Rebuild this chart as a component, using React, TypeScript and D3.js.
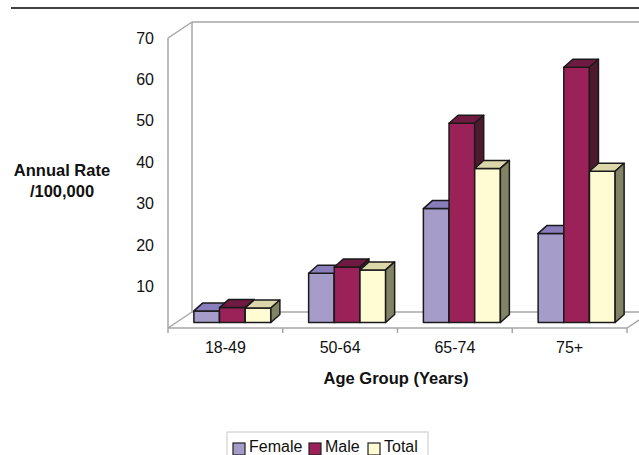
import React from 'react';
import * as d3 from 'd3';

const categories = ['18-49', '50-64', '65-74', '75+'];
const seriesNames = ['Female', 'Male', 'Total'];
const female = [2.8, 11.9, 27.5, 21.5];
const male = [3.6, 13.4, 48.1, 61.6];
const total = [3.5, 12.7, 37.2, 36.5];
const yTicks = [10, 20, 30, 40, 50, 60, 70];

const W = 639;
const H = 455;
const FONT = '"Liberation Sans", Arial, Helvetica, sans-serif';

// face colours per series: front, top, side
const faces = [
  { front: '#a69cc9', top: '#8a7dbb', side: '#6e6496' },
  { front: '#9b2259', top: '#6f1a40', side: '#4d1a30' },
  { front: '#fffbd3', top: '#dcd7aa', side: '#828264' },
];

export default function App() {
  const seriesValues = [female, male, total];

  // front plane of the 3D box
  const x = d3.scaleBand<string>().domain(categories).range([168, 627]);
  const y = d3.scaleLinear().domain([0, 70]).range([328, 38]);

  // wall depth and bar placement inside the box
  const wall = { dx: 24, dy: -16 };
  const barShift = { dx: 7, dy: -5.5 };
  const barDepth = { dx: 9, dy: -8 };
  const inner = d3.scaleBand<string>().domain(seriesNames).range([0, 77]);

  const gray = '#a6a6a6';
  const x0 = x.range()[0];
  const x1 = x.range()[1];
  const yTop = y(70);
  const yBase = y(0);

  const bars: React.ReactNode[] = [];
  categories.forEach((c, ci) => {
    const cx = (x(c) as number) + x.bandwidth() / 2 + barShift.dx;
    seriesNames.forEach((s, si) => {
      const v = seriesValues[si][ci];
      const bx = cx - 77 / 2 + (inner(s) as number);
      const bw = inner.bandwidth();
      const by0 = yBase + barShift.dy;
      const by1 = y(v) + barShift.dy;
      const col = faces[si];
      const top = `M${bx},${by1} L${bx + barDepth.dx},${by1 + barDepth.dy} L${bx + bw + barDepth.dx},${by1 + barDepth.dy} L${bx + bw},${by1} Z`;
      const side = `M${bx + bw},${by1} L${bx + bw + barDepth.dx},${by1 + barDepth.dy} L${bx + bw + barDepth.dx},${by0 + barDepth.dy} L${bx + bw},${by0} Z`;
      bars.push(
        <g key={`${c}-${s}`} stroke="#1a1a1a" strokeWidth={1.5} strokeLinejoin="round">
          <rect x={bx} y={by1} width={bw} height={by0 - by1} fill={col.front} />
          <path d={top} fill={col.top} />
          <path d={side} fill={col.side} />
        </g>
      );
    });
  });

  const legendX = [233, 309, 368];

  return (
    <svg width={W} height={H} style={{ position: 'absolute', left: 0, top: 0 }} fontFamily={FONT}>
      <rect width={W} height={H} fill="#fff" />
      <line x1={11} x2={W} y1={8} y2={8} stroke="#000" strokeWidth={1.6} />

      {/* box */}
      <g stroke={gray} strokeWidth={1.5} fill="none">
        <line x1={x0 + wall.dx} x2={W} y1={yTop + wall.dy} y2={yTop + wall.dy} />
        <line x1={x0 + wall.dx} x2={x0 + wall.dx} y1={yTop + wall.dy} y2={yBase + wall.dy} />
        <line x1={x0 + wall.dx} x2={W} y1={yBase + wall.dy} y2={yBase + wall.dy} />
        <line x1={x0} x2={x0 + wall.dx} y1={yTop} y2={yTop + wall.dy} />
        <line x1={x0} x2={x0 + wall.dx} y1={yBase} y2={yBase + wall.dy} />
        <line x1={x0} x2={x0} y1={yTop} y2={yBase} />
        <line x1={x0} x2={x1} y1={yBase} y2={yBase} />
        <line x1={x1} x2={x1 + 12} y1={yBase} y2={yBase - 8} />
        {x.domain().map((c) => (
          <line key={c} x1={x(c)} x2={x(c)} y1={yBase} y2={yBase + 5} />
        ))}
        <line x1={x1} x2={x1} y1={yBase} y2={yBase + 5} />
      </g>

      {bars}

      {/* y tick labels */}
      <g fontSize={16} fill="#111" textAnchor="end">
        {yTicks.map((t) => (
          <text key={t} x={154} y={y(t) + 5.5}>{t}</text>
        ))}
      </g>

      {/* category labels */}
      <g fontSize={16} fill="#111" textAnchor="middle">
        {categories.map((c) => (
          <text key={c} x={(x(c) as number) + x.bandwidth() / 2} y={353}>{c}</text>
        ))}
      </g>

      <text x={396} y={384} fontSize={16.5} fontWeight="bold" textAnchor="middle" fill="#111">
        Age Group (Years)
      </text>
      <text x={62} y={176} fontSize={16.5} fontWeight="bold" textAnchor="middle" fill="#111">
        Annual Rate
      </text>
      <text x={62} y={197} fontSize={16.5} fontWeight="bold" textAnchor="middle" fill="#111">
        /100,000
      </text>

      {/* legend */}
      <rect x={227} y={432} width={201} height={30} fill="#fff" stroke="#c8c8c8" strokeWidth={1} />
      {seriesNames.map((s, i) => (
        <g key={s}>
          <rect x={legendX[i]} y={443} width={12} height={12} fill={faces[i].front} stroke="#222" strokeWidth={1.2} />
          <text x={legendX[i] + 16} y={452} fontSize={16} fill="#111">{s}</text>
        </g>
      ))}
    </svg>
  );
}
